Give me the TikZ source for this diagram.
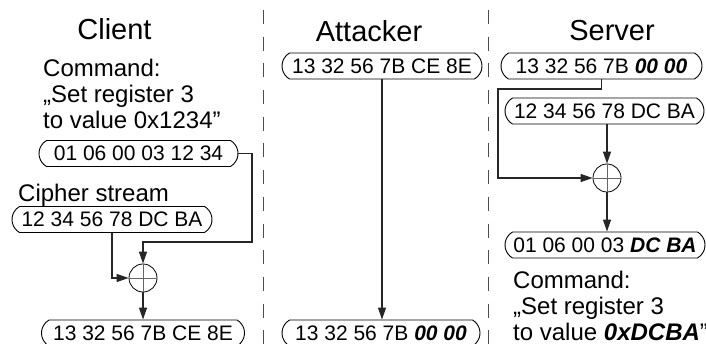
\documentclass[tikz,border=0pt]{standalone}
\usepackage{fontspec}
\setmainfont{Liberation Sans}
\usetikzlibrary{shapes.misc,arrows.meta}
\newcommand{\bi}[1]{\textbf{\textit{#1}}}
\begin{document}
\begin{tikzpicture}[x=1pt,y=-1pt,
 pill/.style={rounded rectangle, rounded rectangle arc length=120, draw=black, line width=0.9pt, minimum height=26pt, inner sep=0pt, font=\fontsize{21}{24}\selectfont},
 ttl/.style={font=\fontsize{29}{32}\selectfont, anchor=base, inner sep=0pt},
 cmd/.style={font=\fontsize{24}{26}\selectfont, anchor=base west, inner sep=0pt},
 conn/.style={line width=1.2pt, draw=black!85},
 arr/.style={conn, -{Triangle[length=12pt,width=8pt]}},
 xor/.style={circle, draw=black, line width=0.8pt, minimum size=28pt, inner sep=0pt},
 divider/.style={line width=1pt, draw=black!70, dash pattern=on 14pt off 12.7pt, dash phase=16.7pt}]
\useasboundingbox (0,0) rectangle (706,344);
% dividers
\coordinate (d1t) at (263,0); \coordinate (d1b) at (263,344);
\coordinate (d2t) at (488,0); \coordinate (d2b) at (488,344);
\draw[divider] (d1t) -- (d1b);
\draw[divider] (d2t) -- (d2b);
% titles
\node[ttl] (tc) at (114.5,40) {Client};
\node[ttl] (ta) at (369,42) {Attacker};
\node[ttl] (ts) at (612,41) {Server};
% client
\node[cmd] (cc1) at (43,77) {Command:};
\node[cmd] (cc2) at (43,103) {„Set register 3};
\node[cmd] (cc3) at (43,129) {to value 0x1234”};
\node[pill, minimum width=199pt] (c1) at (138.5,153.5) {01 06 00 03 12 34};
\node[cmd] (cs) at (18,202) {Cipher stream};
\node[pill, minimum width=200pt] (c2) at (112,219.5) {12 34 56 78 DC BA};
\node[xor] (x1) at (143,278) {};
\draw[line width=0.6pt, draw=black!60] (x1.west) -- (x1.east) (x1.north) -- (x1.south);
\node[pill, minimum width=203pt] (c3) at (143,333) {13 32 56 7B CE 8E};
\draw[arr] (c1.east) -| (252,242) -| (x1.north);
\draw[arr] (c2.south) |- (x1.west);
\draw[arr] (x1.south) -- (c3.north);
% attacker
\node[pill, minimum width=200pt] (a1) at (382,66) {13 32 56 7B CE 8E};
\node[pill, minimum width=198pt] (a2) at (381,333) {13 32 56 7B \bi{00 00}};
\draw[arr] (a1.south) -- (a1.south |- a2.north);
% server
\node[pill, minimum width=201pt] (s1) at (601.5,66) {13 32 56 7B \bi{00 00}};
\node[pill, minimum width=199pt] (s2) at (604.5,111) {12 34 56 78 DC BA};
\node[xor] (x2) at (607,178) {};
\draw[line width=0.6pt, draw=black!60] (x2.west) -- (x2.east) (x2.north) -- (x2.south);
\node[pill, minimum width=200pt] (s3) at (605,245) {01 06 00 03 \bi{DC BA}};
\draw[arr] (s1.south) |- (498,89) |- (x2.west);
\draw[arr] (x2.north |- s2.south) -- (x2.north);
\draw[arr] (x2.south) -- (x2.south |- s3.north);
\node[cmd] (sc1) at (513,289) {Command:};
\node[cmd] (sc2) at (513,315) {„Set register 3};
\node[cmd] (sc3) at (513,340) {to value \bi{0xDCBA}”};
\end{tikzpicture}
\end{document}
